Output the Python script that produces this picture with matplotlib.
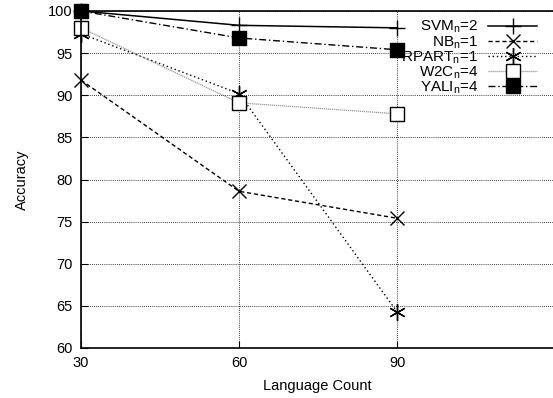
import matplotlib
matplotlib.use("Agg")
import matplotlib.pyplot as plt

plt.rcParams['font.family'] = ['Liberation Sans', 'DejaVu Sans']
plt.rcParams['mathtext.fontset'] = 'custom'
plt.rcParams['mathtext.rm'] = 'Liberation Sans'
plt.rcParams['mathtext.default'] = 'regular'

# language counts on the x axis
languages = [30, 60, 90]

# accuracy per classifier
svm = [100.0, 98.3, 98.0]
nb = [91.8, 78.6, 75.4]
rpart = [97.3, 90.2, 64.3]
w2c = [98.0, 89.1, 87.8]
yali = [100.0, 96.8, 95.4]

labels = ['SVM$_n$=2', 'NB$_n$=1', 'RPART$_n$=1', 'W2C$_n$=4', 'YALI$_n$=4']
x_ticks = [30, 60, 90]
y_ticks = [60, 65, 70, 75, 80, 85, 90, 95, 100]

W, H = 553, 398
fig = plt.figure(figsize=(W / 100, H / 100), dpi=100)
ax = fig.add_axes([81 / W, (H - 348) / H, (W - 81) / W, (348 - 11) / H])

ax.plot(languages, svm, color='black', lw=1.1, marker='+', ms=11, mew=1.0, label=labels[0], clip_on=False)
ax.plot(languages, nb, color='black', lw=1.0, ls=(0, (3, 2)), marker='x', ms=10, mew=1.0,
        label=labels[1], clip_on=False)
ax.plot(languages, rpart, color='black', lw=1.0, ls=(0, (1, 2)), marker=(6, 2, 0), ms=12, mew=1.0,
        label=labels[2], clip_on=False)
ax.plot(languages, w2c, color='#999999', lw=0.9, ls=(0, (1, 0.6)), marker='s', ms=10,
        mfc='white', mec='black', mew=1.0, label=labels[3], clip_on=False)
ax.plot(languages, yali, color='black', lw=1.0, ls=(0, (5, 2, 1, 2)), marker='s', ms=10,
        mfc='black', mec='black', label=labels[4], clip_on=False)

ax.set_xlim(30, 119.6)
ax.set_ylim(60, 100)
ax.set_xticks(x_ticks)
ax.set_yticks(y_ticks)
ax.tick_params(direction='in', length=5, width=0.8, labelsize=10.5, pad=6)
ax.grid(True, color='black', ls=(0, (1, 1.5)), lw=0.6)
ax.set_axisbelow(True)
ax.spines['right'].set_visible(False)
for s in ['left', 'bottom', 'top']:
    ax.spines[s].set_linewidth(1.2)

ax.set_xlabel('Language Count', fontsize=10.5, labelpad=6)
ax.set_ylabel('Accuracy', fontsize=10.5, labelpad=14)

# gnuplot-style key: text right-aligned, sample on the right
ax.legend(loc='upper right', bbox_to_anchor=(537 / W, 1 - 19 / H), bbox_transform=fig.transFigure,
          frameon=False, markerfirst=False, fontsize=11, handlelength=3.2,
          handletextpad=0.65, labelspacing=-0.08, borderpad=0, borderaxespad=0)

fig.savefig('out.png', dpi=100)
